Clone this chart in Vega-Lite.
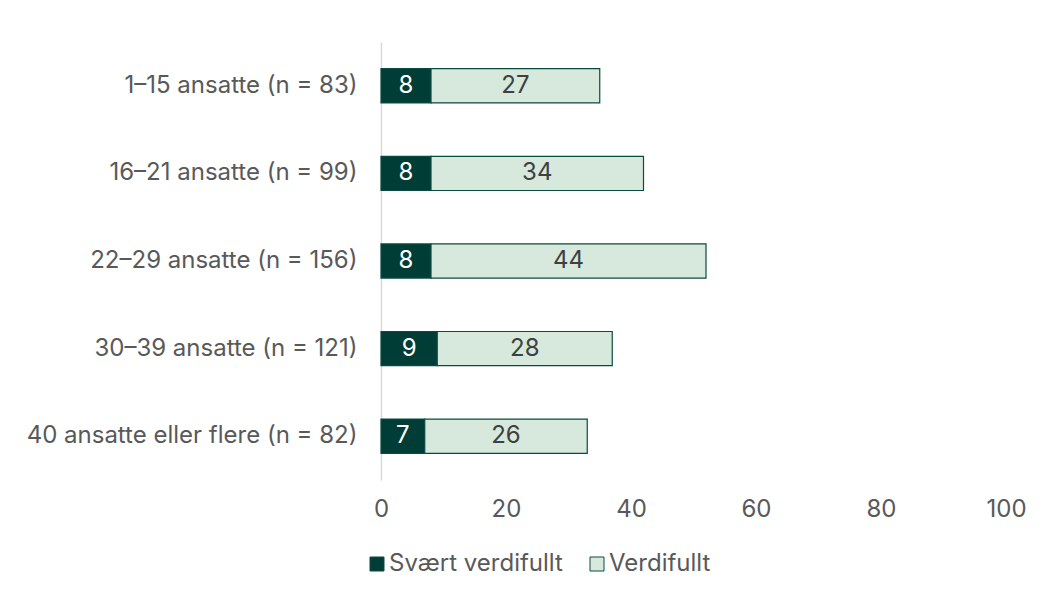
{
  "$schema": "https://vega.github.io/schema/vega-lite/v6.json",
  "width": 625,
  "height": 438,
  "autosize": {"type": "none"},
  "padding": {"left": 381, "top": 42, "right": 39, "bottom": 115},
  "background": "#ffffff",
  "config": {
    "font": "Inter",
    "view": {"stroke": null},
    "axis": {"labelFont": "Inter", "labelFontSize": 24, "labelColor": "#595959", "ticks": false, "grid": false, "title": null}
  },
  "data": {
    "values": [
      {"group": "1–15 ansatte (n = 83)", "cat": "Svært verdifullt", "k": 1, "v": 8},
      {"group": "1–15 ansatte (n = 83)", "cat": "Verdifullt", "k": 2, "v": 27},
      {"group": "16–21 ansatte (n = 99)", "cat": "Svært verdifullt", "k": 1, "v": 8},
      {"group": "16–21 ansatte (n = 99)", "cat": "Verdifullt", "k": 2, "v": 34},
      {"group": "22–29 ansatte (n = 156)", "cat": "Svært verdifullt", "k": 1, "v": 8},
      {"group": "22–29 ansatte (n = 156)", "cat": "Verdifullt", "k": 2, "v": 44},
      {"group": "30–39 ansatte (n = 121)", "cat": "Svært verdifullt", "k": 1, "v": 9},
      {"group": "30–39 ansatte (n = 121)", "cat": "Verdifullt", "k": 2, "v": 28},
      {"group": "40 ansatte eller flere (n = 82)", "cat": "Svært verdifullt", "k": 1, "v": 7},
      {"group": "40 ansatte eller flere (n = 82)", "cat": "Verdifullt", "k": 2, "v": 26}
    ]
  },
  "transform": [
    {"stack": "v", "groupby": ["group"], "sort": [{"field": "k", "order": "ascending"}], "as": ["x0", "x1"]},
    {"calculate": "(datum.x0 + datum.x1) / 2", "as": "mid"}
  ],
  "encoding": {
    "y": {
      "field": "group", "type": "nominal", "sort": null,
      "scale": {"paddingInner": 0.61, "paddingOuter": 0.305},
      "axis": {"domain": true, "domainColor": "#d9d9d9", "domainWidth": 1.5, "labelPadding": 24, "labelLimit": 500}
    }
  },
  "layer": [
    {
      "mark": {"type": "bar", "stroke": "#0a4a40", "strokeWidth": 1.2},
      "encoding": {
        "x": {"field": "x0", "type": "quantitative", "scale": {"domain": [0, 100], "nice": false},
          "axis": {"domain": false, "values": [0, 20, 40, 60, 80, 100], "labelPadding": 17, "labelFlush": false}},
        "x2": {"field": "x1"},
        "color": {
          "field": "cat", "type": "nominal",
          "scale": {"domain": ["Svært verdifullt", "Verdifullt"], "range": ["#003d36", "#d6e9dc"]},
          "legend": {
            "title": null, "orient": "none", "direction": "horizontal", "legendX": -16, "legendY": 510,
            "symbolType": "square", "symbolSize": 196, "symbolStrokeColor": "#0a4a40", "symbolStrokeWidth": 1,
            "labelFont": "Inter", "labelFontSize": 24, "labelColor": "#595959", "labelLimit": 400,
            "columnPadding": 22, "labelOffset": 0
          }
        }
      }
    },
    {
      "mark": {"type": "text", "font": "Inter", "fontSize": 24},
      "encoding": {
        "x": {"field": "mid", "type": "quantitative"},
        "text": {"field": "v", "type": "quantitative"},
        "color": {
          "field": "cat", "type": "nominal",
          "scale": {"domain": ["Svært verdifullt", "Verdifullt"], "range": ["#ffffff", "#404040"]},
          "legend": null
        }
      }
    }
  ],
  "resolve": {"scale": {"color": "independent"}}
}
